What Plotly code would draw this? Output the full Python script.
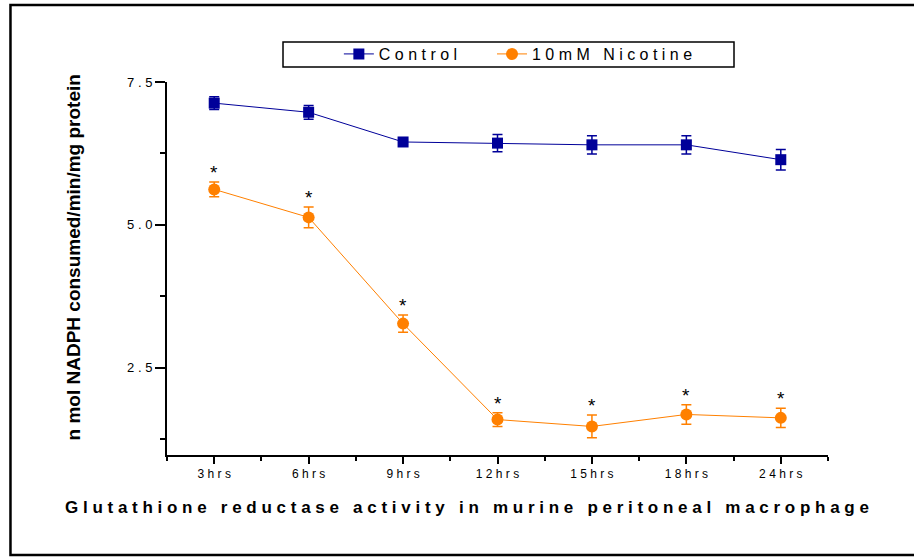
import plotly.graph_objects as go

categories = ["3hrs", "6hrs", "9hrs", "12hrs", "15hrs", "18hrs", "24hrs"]
control = [7.13, 6.97, 6.45, 6.43, 6.40, 6.40, 6.14]
control_err = [0.11, 0.12, 0.03, 0.15, 0.16, 0.16, 0.18]
nicotine = [5.62, 5.13, 3.27, 1.59, 1.47, 1.68, 1.62]
nicotine_err = [0.13, 0.18, 0.15, 0.12, 0.20, 0.17, 0.17]
significant = ["*", "*", "*", "*", "*", "*", "*"]
y_ticks = [2.5, 5.0, 7.5]

NAVY = "#000099"
ORANGE = "#FF8000"
NB = "\u00a0"
FONT = "Liberation Sans"


def spaced(s, sep=" ", wsep=NB * 3):
    return wsep.join(sep.join(list(w)) for w in s.split(" "))


xpos = list(range(len(categories)))

fig = go.Figure()
fig.add_trace(go.Scatter(
    x=xpos, y=control, name=spaced("Control"), mode="lines+markers",
    line=dict(color=NAVY, width=1),
    marker=dict(symbol="square", size=11, color=NAVY),
    error_y=dict(type="data", array=control_err, color=NAVY, thickness=1.5, width=5),
    legend="legend",
))
fig.add_trace(go.Scatter(
    x=xpos, y=nicotine, name=spaced("10mM Nicotine", wsep=NB * 3), mode="lines+markers",
    line=dict(color=ORANGE, width=1),
    marker=dict(symbol="circle", size=12, color=ORANGE),
    error_y=dict(type="data", array=nicotine_err, color=ORANGE, thickness=1.5, width=5),
    legend="legend2",
))

annotations = []
for xi, v, e, s in zip(xpos, nicotine, nicotine_err, significant):
    annotations.append(dict(x=xi, y=v + e, text=s, showarrow=False, xref="x", yref="y",
                            yanchor="bottom", yshift=-3,
                            font=dict(size=19, color="black", family=FONT)))

annotations.append(dict(
    x=-0.142, y=0.53, xref="paper", yref="paper", showarrow=False, textangle=-90,
    xanchor="center", yanchor="middle",
    text="<b>n mol NADPH consumed/min/mg protein</b>",
    font=dict(size=19, color="black", family=FONT),
))
annotations.append(dict(
    x=0.454, y=-0.142, xref="paper", yref="paper", showarrow=False,
    xanchor="center", yanchor="middle",
    text="<b>" + spaced("Glutathione reductase activity in murine peritoneal macrophage") + "</b>",
    font=dict(size=17, color="black", family=FONT),
))

leg_common = dict(orientation="h", yanchor="top", xanchor="left", y=1.1206,
                  bgcolor="rgba(0,0,0,0)", borderwidth=0,
                  font=dict(size=16, family=FONT))

fig.update_layout(
    width=914, height=558,
    margin=dict(l=167, r=86, t=82, b=103),
    paper_bgcolor="white", plot_bgcolor="white",
    font=dict(family=FONT, color="black"),
    showlegend=True,
    legend=dict(x=0.260, **leg_common),
    legend2=dict(x=0.4917, **leg_common),
    annotations=annotations,
    shapes=[
        dict(type="rect", xref="paper", yref="paper",
             x0=-0.2368, x1=1.15, y0=-0.268, y1=1.2064,
             line=dict(color="black", width=2.5)),
        dict(type="rect", xref="paper", yref="paper",
             x0=0.1755, x1=0.8578, y0=1.0402, y1=1.1072,
             line=dict(color="black", width=1.5)),
    ],
)

fig.update_xaxes(
    range=[-0.5, 6.5], tickmode="array", tickvals=xpos,
    ticktext=[spaced(c) for c in categories],
    showline=True, linecolor="black", linewidth=2,
    ticks="outside", ticklen=7, tickwidth=2, tickcolor="black",
    minor=dict(dtick=0.5, tick0=0.5, ticks="outside", ticklen=4, tickwidth=2, tickcolor="black"),
    showgrid=False, zeroline=False,
    tickfont=dict(size=12, family=FONT),
)
fig.update_yaxes(
    range=[0.97, 7.5], tickmode="array", tickvals=y_ticks,
    ticktext=[spaced(f"{t:.1f}") for t in y_ticks],
    showline=True, linecolor="black", linewidth=2,
    ticks="outside", ticklen=10, tickwidth=2, tickcolor="black",
    minor=dict(dtick=1.25, tick0=0, ticks="outside", ticklen=5, tickwidth=2, tickcolor="black"),
    showgrid=False, zeroline=False,
    tickfont=dict(size=13, family=FONT),
)

fig.write_html("out.html")
